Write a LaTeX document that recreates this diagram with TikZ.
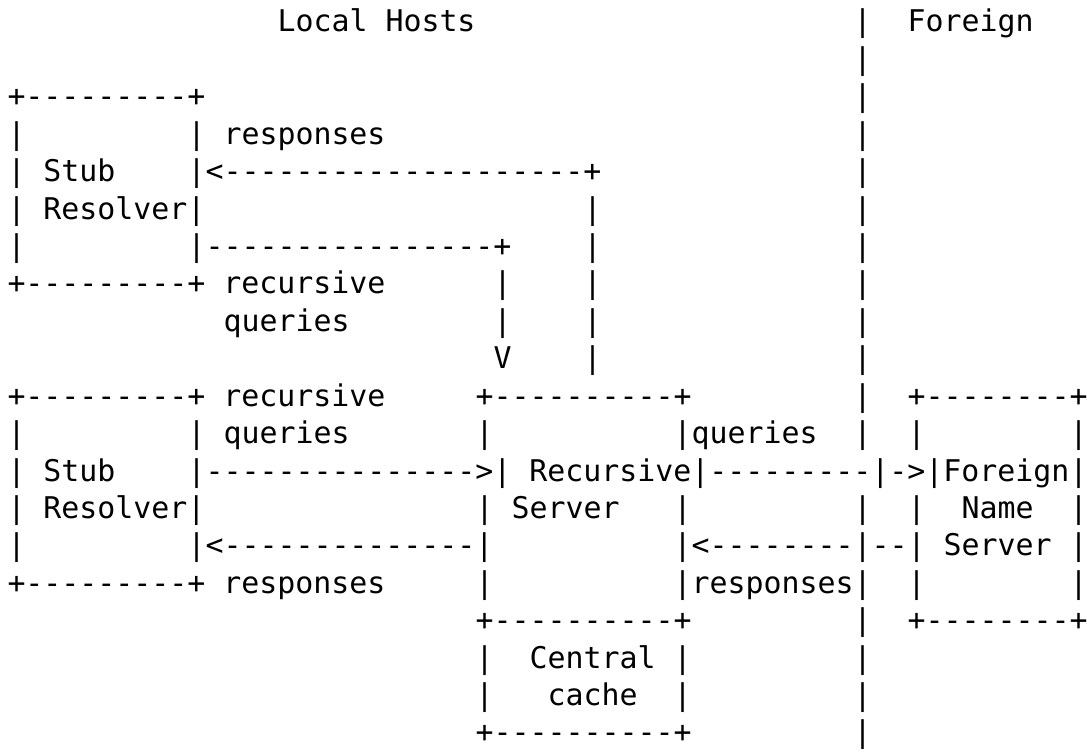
\documentclass[tikz,border=0pt]{standalone}
\usepackage{fontspec}
\setmonofont{DejaVu Sans Mono}
\tikzset{
  txt/.style={anchor=base west, inner sep=0pt, outer sep=0pt,
    font=\ttfamily\fontsize{14.95}{15}\selectfont, text=black}
}
\newcommand\seg[3]{\node[txt] (r#1c#2) at ({7.5+18*#2},{-32-37.42*#1}) {#3};}
\begin{document}
\begin{tikzpicture}[x=0.5pt,y=0.5pt]
\useasboundingbox[fill=white] (0,0) rectangle (1087,-754);
% row 0
\seg{0}{15}{Local Hosts}
\seg{0}{47}{|}
\seg{0}{50}{Foreign}
% row 1
\seg{1}{47}{|}
% row 2
\seg{2}{0}{+---------+}
\seg{2}{47}{|}
% row 3
\seg{3}{0}{|}
\seg{3}{10}{| responses}
\seg{3}{47}{|}
% row 4
\seg{4}{0}{| Stub}
\seg{4}{10}{|<--------------------+}
\seg{4}{47}{|}
% row 5
\seg{5}{0}{| Resolver|}
\seg{5}{32}{|}
\seg{5}{47}{|}
% row 6
\seg{6}{0}{|}
\seg{6}{10}{|----------------+}
\seg{6}{32}{|}
\seg{6}{47}{|}
% row 7
\seg{7}{0}{+---------+ recursive}
\seg{7}{27}{|}
\seg{7}{32}{|}
\seg{7}{47}{|}
% row 8
\seg{8}{12}{queries}
\seg{8}{27}{|}
\seg{8}{32}{|}
\seg{8}{47}{|}
% row 9
\seg{9}{27}{V}
\seg{9}{32}{|}
\seg{9}{47}{|}
% row 10
\seg{10}{0}{+---------+ recursive}
\seg{10}{26}{+----------+}
\seg{10}{47}{|}
\seg{10}{50}{+--------+}
% row 11
\seg{11}{0}{|}
\seg{11}{10}{| queries}
\seg{11}{26}{|}
\seg{11}{37}{|queries}
\seg{11}{47}{|}
\seg{11}{50}{|}
\seg{11}{59}{|}
% row 12
\seg{12}{0}{| Stub}
\seg{12}{10}{|--------------->| Recursive|---------|->|Foreign}
\seg{12}{59}{|}
% row 13
\seg{13}{0}{| Resolver|}
\seg{13}{26}{| Server}
\seg{13}{37}{|}
\seg{13}{47}{|}
\seg{13}{50}{|}
\seg{13}{53}{Name}
\seg{13}{59}{|}
% row 14
\seg{14}{0}{|}
\seg{14}{10}{|<--------------|}
\seg{14}{37}{|<--------|--| Server}
\seg{14}{59}{|}
% row 15
\seg{15}{0}{+---------+ responses}
\seg{15}{26}{|}
\seg{15}{37}{|responses|}
\seg{15}{50}{|}
\seg{15}{59}{|}
% row 16
\seg{16}{26}{+----------+}
\seg{16}{47}{|}
\seg{16}{50}{+--------+}
% row 17
\seg{17}{26}{|}
\seg{17}{29}{Central}
\seg{17}{37}{|}
\seg{17}{47}{|}
% row 18
\seg{18}{26}{|}
\seg{18}{30}{cache}
\seg{18}{37}{|}
\seg{18}{47}{|}
% row 19
\seg{19}{26}{+----------+}
\seg{19}{47}{|}
\end{tikzpicture}
\end{document}
